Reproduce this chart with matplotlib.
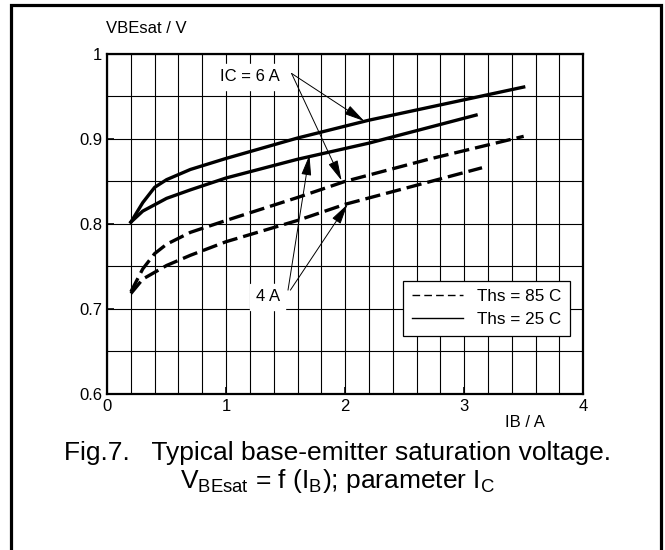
import matplotlib
matplotlib.use('Agg')
import matplotlib.pyplot as plt
from matplotlib.patches import Rectangle

plt.rcParams['font.family'] = ['Liberation Sans', 'DejaVu Sans']

# Curves (IB in A, VBEsat in V)
ib_6a_25 = [0.2, 0.3, 0.4, 0.5, 0.7, 1.0, 1.6, 2.2, 3.0, 3.5]
vbe_6a_25 = [0.802, 0.825, 0.843, 0.852, 0.864, 0.877, 0.901, 0.922, 0.946, 0.961]
ib_4a_25 = [0.2, 0.3, 0.5, 0.7, 1.0, 1.6, 2.2, 3.1]
vbe_4a_25 = [0.802, 0.815, 0.830, 0.840, 0.854, 0.876, 0.895, 0.928]
ib_6a_85 = [0.2, 0.3, 0.4, 0.5, 0.7, 1.0, 1.6, 2.0, 2.7, 3.5]
vbe_6a_85 = [0.720, 0.747, 0.765, 0.776, 0.790, 0.804, 0.831, 0.850, 0.876, 0.903]
ib_4a_85 = [0.2, 0.3, 0.5, 0.7, 1.0, 1.6, 2.0, 3.15]
vbe_4a_85 = [0.718, 0.735, 0.751, 0.763, 0.779, 0.804, 0.823, 0.866]

x_ticks = [0, 1, 2, 3, 4]
y_ticks = [0.6, 0.7, 0.8, 0.9, 1.0]
y_tick_labels = ['0.6', '0.7', '0.8', '0.9', '1']

fig = plt.figure(figsize=(6.65, 5.5), dpi=100)
ax = fig.add_axes([0.161, 0.284, 0.716, 0.618])

ax.set_xlim(0, 4)
ax.set_ylim(0.6, 1.0)
ax.set_xticks(x_ticks)
ax.set_yticks(y_ticks)
ax.set_yticklabels(y_tick_labels)
ax.set_xticks([i * 0.2 for i in range(21)], minor=True)
ax.set_yticks([0.6 + i * 0.05 for i in range(9)], minor=True)
ax.grid(which='both', color='black', linewidth=0.8)
ax.tick_params(which='major', direction='in', length=5, width=1.2, labelsize=12)
ax.tick_params(which='minor', length=0)
for s in ax.spines.values():
    s.set_linewidth(1.6)
ax.set_axisbelow(True)

dash = (0, (4.6, 1.8))
ax.plot(ib_6a_25, vbe_6a_25, color='black', lw=2.4)
ax.plot(ib_4a_25, vbe_4a_25, color='black', lw=2.4)
ax.plot(ib_6a_85, vbe_6a_85, color='black', lw=2.4, linestyle=dash)
ax.plot(ib_4a_85, vbe_4a_85, color='black', lw=2.4, linestyle=dash)

arrow = dict(arrowstyle='-|>,head_length=0.9,head_width=0.22', color='black',
             lw=0.7, mutation_scale=14, shrinkA=0, shrinkB=0)
ax.text(1.2, 0.973, 'IC = 6 A', ha='center', va='center', fontsize=12,
        backgroundcolor='white')
ax.annotate('', xy=(2.16, 0.921), xytext=(1.55, 0.977), arrowprops=arrow)
ax.annotate('', xy=(1.97, 0.851), xytext=(1.55, 0.977), arrowprops=arrow)
ax.text(1.35, 0.714, '4 A', ha='center', va='center', fontsize=12,
        backgroundcolor='white')
ax.annotate('', xy=(1.70, 0.881), xytext=(1.52, 0.722), arrowprops=arrow)
ax.annotate('', xy=(2.02, 0.823), xytext=(1.54, 0.722), arrowprops=arrow)

ax.plot([], [], color='black', lw=1.0, linestyle=(0, (5.5, 3)), label='Ths = 85 C')
ax.plot([], [], color='black', lw=1.0, label='Ths = 25 C')
leg = ax.legend(loc='lower right', bbox_to_anchor=(0.972, 0.171), fontsize=12.3,
                fancybox=False, framealpha=1, edgecolor='black',
                handlelength=3.0, borderpad=0.5, labelspacing=0.45,
                handletextpad=0.8, borderaxespad=0)
leg.get_frame().set_linewidth(0.9)

fig.text(0.159, 0.935, 'VBEsat / V', fontsize=12, ha='left', va='bottom')
fig.text(0.79, 0.232, 'IB / A', fontsize=12, ha='center', va='center')

fig.text(0.507, 0.176, 'Fig.7.   Typical base-emitter saturation voltage.',
         fontsize=19, ha='center', va='center')
fig.text(0.507, 0.125, r'V$_{\mathregular{BEsat}}$ = f (I$_{\mathregular{B}}$); parameter I$_{\mathregular{C}}$',
         fontsize=19, ha='center', va='center')

fig.patches.append(Rectangle((0.0165, -0.02), 0.978, 1.011, transform=fig.transFigure,
                             fill=False, edgecolor='black', lw=2.3))

fig.savefig('out.png', dpi=100)
